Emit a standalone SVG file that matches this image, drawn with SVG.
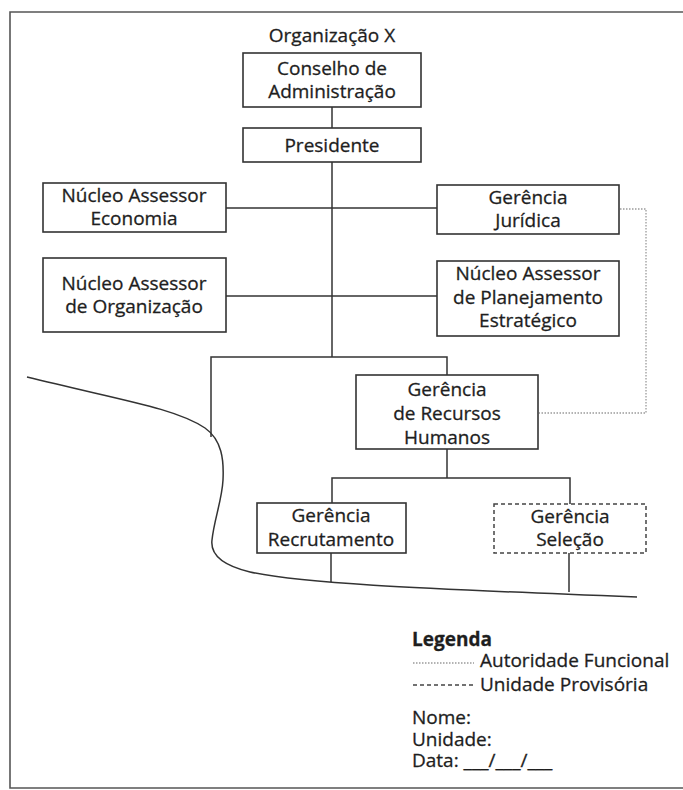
<svg xmlns="http://www.w3.org/2000/svg" width="683" height="790" viewBox="0 0 683 790">
  <style>
    .box { fill: #ffffff; stroke: #333333; stroke-width: 1.6; }
    .prov { fill: #ffffff; stroke: #444444; stroke-width: 1.5; stroke-dasharray: 4 3; }
    .lbl { font-family: "Open Sans", "Noto Sans", sans-serif; font-size: 19px; fill: #1e1e1e; stroke: #1e1e1e; stroke-width: 0.3; text-anchor: middle; }
    .leg { font-family: "Open Sans", "Noto Sans", sans-serif; font-size: 19px; fill: #1e1e1e; stroke: #1e1e1e; stroke-width: 0.3; }
    .line { fill: none; stroke: #333333; stroke-width: 1.5; }
    .func { fill: none; stroke: #9a9a9a; stroke-width: 1.3; stroke-dasharray: 1.5 1.5; }
    .frame { fill: none; stroke: #555555; stroke-width: 1.6; }
  </style>

  <rect x="0" y="0" width="683" height="790" fill="#ffffff"/>

  <!-- page frame -->
  <path class="frame" d="M683,12 H10 V788 H683"/>

  <!-- organisation title -->
  <text class="lbl" x="332" y="42">Organização X</text>

  <!-- connectors -->
  <g id="connectors">
    <!-- main trunk -->
    <path class="line" d="M332,107 V128"/>
    <path class="line" d="M332,162 V357"/>
    <!-- staff rows -->
    <path class="line" d="M226,208 H437"/>
    <path class="line" d="M226,296 H437"/>
    <!-- line branch -->
    <path class="line" d="M211,437 V357 H447 V375"/>
    <path class="line" d="M447,449 V478"/>
    <path class="line" d="M332,503 V478 H570 V504"/>
    <path class="line" d="M331,553 V582"/>
    <path class="line" d="M569,553 V592"/>
    <!-- functional authority -->
    <path class="func" d="M620,209 H646 V413 H539"/>
    <!-- cut line -->
    <path class="line" d="M27,377 C120,400 175,408 205,428 C222,440 224,460 223,480 C222,500 214,520 212,540 C210,556 225,566 250,572 C300,583 400,588 637,597"/>
  </g>

  <g id="conselho">
    <rect class="box" x="243" y="53" width="178" height="54"/>
    <text class="lbl" x="332" y="75">Conselho de</text>
    <text class="lbl" x="332" y="98">Administração</text>
  </g>

  <g id="presidente">
    <rect class="box" x="243" y="128" width="178" height="34"/>
    <text class="lbl" x="332" y="152">Presidente</text>
  </g>

  <g id="nucleo-economia">
    <rect class="box" x="43" y="183" width="183" height="49"/>
    <text class="lbl" x="134" y="202">Núcleo Assessor</text>
    <text class="lbl" x="134" y="225">Economia</text>
  </g>

  <g id="gerencia-juridica">
    <rect class="box" x="437" y="185" width="182" height="49"/>
    <text class="lbl" x="528" y="204">Gerência</text>
    <text class="lbl" x="528" y="227">Jurídica</text>
  </g>

  <g id="nucleo-organizacao">
    <rect class="box" x="43" y="258" width="183" height="74"/>
    <text class="lbl" x="134" y="290">Núcleo Assessor</text>
    <text class="lbl" x="134" y="313">de Organização</text>
  </g>

  <g id="nucleo-planejamento">
    <rect class="box" x="437" y="261" width="182" height="75"/>
    <text class="lbl" x="528" y="280">Núcleo Assessor</text>
    <text class="lbl" x="528" y="304">de Planejamento</text>
    <text class="lbl" x="528" y="327">Estratégico</text>
  </g>

  <g id="gerencia-rh">
    <rect class="box" x="356" y="375" width="182" height="74"/>
    <text class="lbl" x="447" y="396">Gerência</text>
    <text class="lbl" x="447" y="420">de Recursos</text>
    <text class="lbl" x="447" y="444">Humanos</text>
  </g>

  <g id="gerencia-recrutamento">
    <rect class="box" x="257" y="503" width="149" height="50"/>
    <text class="lbl" x="331" y="522">Gerência</text>
    <text class="lbl" x="331" y="546">Recrutamento</text>
  </g>

  <g id="gerencia-selecao">
    <rect class="prov" x="494" y="504" width="152" height="49"/>
    <text class="lbl" x="570" y="523">Gerência</text>
    <text class="lbl" x="570" y="546">Seleção</text>
  </g>

  <!-- legend -->
  <g id="legenda">
    <text class="leg" x="412" y="646" font-weight="bold">Legenda</text>
    <path class="func" d="M413,663 H474"/>
    <text class="leg" x="480" y="667">Autoridade Funcional</text>
    <path d="M413,685 H474" fill="none" stroke="#444444" stroke-width="1.4" stroke-dasharray="4 3"/>
    <text class="leg" x="480" y="691">Unidade Provisória</text>
    <text class="leg" x="412" y="724">Nome:</text>
    <text class="leg" x="412" y="746">Unidade:</text>
    <text class="leg" x="412" y="767">Data: ___/___/___</text>
  </g>
</svg>
